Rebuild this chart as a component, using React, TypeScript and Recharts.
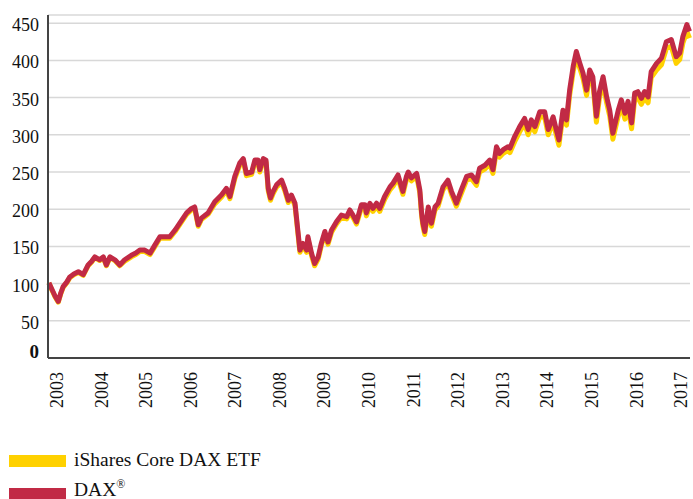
// DAX vs. iShares Core DAX ETF, rebased to 100, drawn with recharts.

import * as React from 'react';
import { CartesianGrid, Line, LineChart, XAxis, YAxis } from 'recharts';

const dates = [
  2002.82, 2002.89, 2002.96, 2003.03, 2003.09, 2003.14, 2003.22, 2003.29, 2003.38, 2003.48,
  2003.59, 2003.7, 2003.78, 2003.85, 2003.96, 2004.04, 2004.11, 2004.19, 2004.3, 2004.41,
  2004.52, 2004.67, 2004.77, 2004.86, 2004.97, 2005.09, 2005.2, 2005.31, 2005.42, 2005.53,
  2005.65, 2005.74, 2005.83, 2005.91, 2006.02, 2006.09, 2006.17, 2006.24, 2006.39, 2006.54,
  2006.69, 2006.8, 2006.88, 2006.99, 2007.1, 2007.18, 2007.25, 2007.37, 2007.44, 2007.51,
  2007.55, 2007.63, 2007.69, 2007.74, 2007.79, 2007.85, 2007.93, 2008.04, 2008.11, 2008.19,
  2008.26, 2008.34, 2008.41, 2008.45, 2008.52, 2008.6, 2008.63, 2008.71, 2008.78, 2008.86,
  2008.93, 2009.01, 2009.08, 2009.16, 2009.27, 2009.38, 2009.5, 2009.57, 2009.64, 2009.72,
  2009.83, 2009.91, 2009.94, 2010.02, 2010.09, 2010.17, 2010.24, 2010.35, 2010.47, 2010.54,
  2010.65, 2010.76, 2010.84, 2010.88, 2010.95, 2011.07, 2011.14, 2011.18, 2011.21, 2011.25,
  2011.33, 2011.4, 2011.48, 2011.55, 2011.66, 2011.77, 2011.85, 2011.96, 2012.07, 2012.19,
  2012.3, 2012.41, 2012.48, 2012.6, 2012.71, 2012.78, 2012.86, 2012.93, 2013.01, 2013.12,
  2013.16, 2013.27, 2013.38, 2013.49, 2013.57, 2013.64, 2013.72, 2013.83, 2013.94, 2014.02,
  2014.13, 2014.2, 2014.26, 2014.35, 2014.43, 2014.5, 2014.58, 2014.65, 2014.73, 2014.8,
  2014.88, 2014.95, 2015.02, 2015.1, 2015.17, 2015.25, 2015.33, 2015.4, 2015.47, 2015.59,
  2015.66, 2015.74, 2015.81, 2015.89, 2015.96, 2016.03, 2016.11, 2016.18, 2016.26, 2016.33,
  2016.45, 2016.56, 2016.67, 2016.78, 2016.89, 2016.97, 2017.04, 2017.13, 2017.19,
];

const dax = [
  101, 92, 83, 76, 88, 96, 102, 109, 113, 116,
  112, 125, 130, 136, 132, 136, 125, 136, 132, 125,
  132, 138, 141, 145, 145, 141, 152, 163, 163, 163,
  172, 180, 188, 195, 201, 203, 179, 188, 195, 210,
  219, 228, 217, 244, 262, 268, 248, 250, 266, 266,
  253, 268, 266, 228, 215, 224, 233, 239, 228, 212,
  219, 208, 168, 145, 154, 145, 163, 141, 127, 136,
  154, 170, 156, 172, 183, 192, 190, 199, 192, 183,
  206, 206, 195, 208, 201, 208, 201, 217, 230, 235,
  246, 224, 244, 250, 242, 248, 226, 195, 181, 170,
  203, 181, 203, 208, 230, 239, 224, 208, 226, 244,
  246, 237, 255, 259, 266, 253, 284, 275, 280, 284,
  282, 298, 311, 322, 307, 320, 311, 331, 331, 307,
  324, 307, 293, 333, 320, 360, 392, 412, 396, 383,
  360, 387, 378, 325, 358, 378, 351, 333, 302, 333,
  347, 329, 345, 316, 356, 358, 349, 358, 351, 385,
  396, 403, 425, 428, 405, 410, 432, 448, 439,
];

const etf = [
  101, 91, 82, 75, 87, 95, 101, 108, 112, 115,
  111, 124, 129, 135, 131, 135, 124, 135, 131, 124,
  130, 136, 139, 143, 143, 139, 150, 161, 161, 161,
  170, 178, 186, 193, 199, 201, 177, 186, 193, 207,
  216, 225, 214, 241, 259, 265, 245, 247, 263, 263,
  250, 265, 263, 225, 212, 221, 230, 236, 225, 209,
  216, 205, 165, 142, 151, 142, 160, 138, 124, 133,
  151, 167, 153, 169, 180, 189, 187, 196, 189, 180,
  202, 202, 191, 204, 197, 204, 197, 213, 226, 231,
  242, 220, 240, 246, 238, 244, 222, 191, 177, 166,
  199, 177, 199, 204, 226, 235, 220, 204, 221, 239,
  241, 232, 250, 254, 261, 248, 279, 270, 275, 279,
  276, 291, 304, 315, 300, 313, 304, 324, 324, 300,
  317, 300, 286, 326, 313, 353, 385, 405, 389, 376,
  353, 380, 371, 317, 350, 370, 343, 325, 294, 325,
  339, 321, 337, 308, 348, 350, 341, 350, 343, 377,
  387, 394, 416, 419, 396, 401, 423, 439, 430,
];

const yearTicks = [2003, 2004, 2005, 2006, 2007, 2008, 2009, 2010, 2011, 2012, 2013, 2014, 2015, 2016, 2017];
const valueTicks = [0, 50, 100, 150, 200, 250, 300, 350, 400, 450];

const seriesNames = ['iShares Core DAX ETF', 'DAX'];

const YELLOW = '#FFD100';
const RED = '#C12A45';
const FONT = '"Liberation Serif", "Times New Roman", serif';

const data = dates.map((t, i) => ({ t, dax: dax[i], etf: etf[i] }));

function YTick({ x, y, payload }: any) {
  const zero = payload.value === 0;
  return (
    <text
      x={x - 1}
      y={y}
      dy={zero ? 0 : 8}
      textAnchor='end'
      style={{ fontFamily: FONT, fontSize: zero ? 19 : 18, fontWeight: zero ? 'bold' : 'normal' }}
      fill='#111'
    >
      {payload.value}
    </text>
  );
}

function XTick({ x, y, payload }: any) {
  return (
    <text
      transform={`translate(${x + 6}, ${y + 6}) rotate(-90)`}
      textAnchor='end'
      style={{ fontFamily: FONT, fontSize: 18 }}
      fill='#111'
    >
      {payload.value}
    </text>
  );
}

export default function App() {
  return (
    <div
      style={{
        position: 'absolute',
        left: 0,
        top: 0,
        width: 693,
        height: 499,
        background: '#fff',
        fontFamily: FONT,
      }}
    >
      <LineChart width={693} height={420} data={data} margin={{ top: 15, right: 3, left: 0, bottom: 0 }}>
        <CartesianGrid horizontal vertical={false} stroke='#d8d8d8' strokeWidth={1.5} />
        <XAxis
          dataKey='t'
          type='number'
          domain={[2002.8, 2017.2]}
          ticks={yearTicks}
          tick={<XTick />}
          tickLine={false}
          axisLine={{ stroke: '#444', strokeWidth: 2 }}
          height={62}
          interval={0}
        />
        <YAxis
          type='number'
          domain={[0, 461]}
          ticks={valueTicks}
          tick={<YTick />}
          tickLine={false}
          axisLine={{ stroke: '#444', strokeWidth: 2 }}
          width={48}
          interval={0}
        />
        <Line
          dataKey='etf'
          stroke={YELLOW}
          strokeWidth={5}
          dot={false}
          strokeLinejoin='round'
          isAnimationActive={false}
        />
        <Line
          dataKey='dax'
          stroke={RED}
          strokeWidth={5}
          dot={false}
          strokeLinejoin='round'
          isAnimationActive={false}
        />
      </LineChart>
      <svg width={693} height={59} style={{ position: 'absolute', left: 0, top: 440 }}>
        <rect x={9} y={15} width={57} height={12} fill={YELLOW} />
        <text x={74} y={26} style={{ fontFamily: FONT, fontSize: 19.5 }} fill='#111'>
          {seriesNames[0]}
        </text>
        <rect x={9} y={48} width={57} height={11} fill={RED} />
        <text x={74} y={56} style={{ fontFamily: FONT, fontSize: 19.5 }} fill='#111'>
          {seriesNames[1]}
          <tspan fontSize={12} dy={-8}>®</tspan>
        </text>
      </svg>
    </div>
  );
}
